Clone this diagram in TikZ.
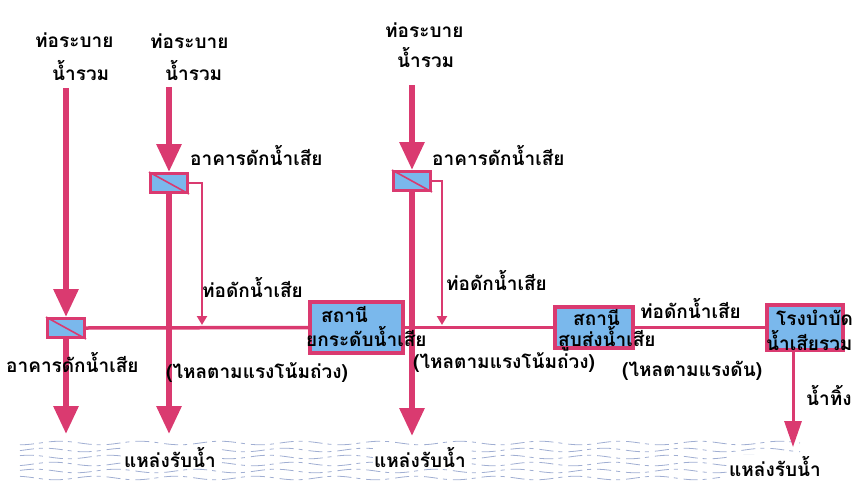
\documentclass[tikz,border=0pt]{standalone}
\usepackage{fontspec}
\newfontfamily\thaifont[Script=Thai]{Loma}
\usetikzlibrary{arrows.meta}
\definecolor{pinkc}{RGB}{218,58,112}
\definecolor{boxblue}{RGB}{122,184,236}
\definecolor{wavec}{RGB}{160,174,210}
\begin{document}
\begin{tikzpicture}[x=1pt,y=-1pt,
  lbl/.style={font=\thaifont\bfseries\fontsize{19}{22}\selectfont, inner sep=0pt, anchor=base west, text=black},
  bigarrow/.style={draw=pinkc, line width=6pt, -{Triangle[width=24pt,length=28pt]}},
  midarrow/.style={draw=pinkc, line width=3pt, -{Triangle[width=17pt,length=26pt]}},
  thinpipe/.style={draw=pinkc, line width=2.5pt, -{Triangle[width=10pt,length=9pt]}},
  mainpipe/.style={draw=pinkc, line width=3.5pt},
  trap/.style={draw=pinkc, fill=boxblue, line width=3pt, minimum width=37pt, minimum height=19pt, inner sep=0pt},
  station/.style={draw=pinkc, fill=boxblue, line width=3.5pt, inner sep=0pt},
  wave/.style={draw=wavec, line width=0.8pt, dash pattern=on 14pt off 5pt on 4pt off 6pt}
]
\useasboundingbox (0,0) rectangle (857,485);

% water
\foreach \yy/\ph/\xe in {443/0/800,450/70/800,457/140/800,464/30/800,471/110/800,478/200/720}
  \draw[wave] plot[domain=20:\xe,samples=160] (\x,{\yy+1.8*sin(\x*4.5+\ph)});

% boxes
\node[trap] (tr1) at (66,328) {};
\node[trap] (tr2) at (169,183) {};
\node[trap] (tr3) at (412,181) {};
\foreach \b in {tr1,tr2,tr3}
  \draw[pinkc, line width=1.6pt] (\b.north west) -- (\b.south east);
\node[station, minimum width=93pt, minimum height=51pt] (st1) at (356.5,327.5) {};
\node[station, minimum width=78pt, minimum height=41pt] (st2) at (594,327.5) {};
\node[station, minimum width=76pt, minimum height=45pt] (st3) at (805,327.5) {};

% coordinates
\coordinate (c1top) at (66,88);
\coordinate (c2top) at (169,87);
\coordinate (c3top) at (412,85);
\coordinate (c1bot) at (66,434);
\coordinate (c2bot) at (169,434);
\coordinate (c3bot) at (412,436);
\coordinate (k2) at (202,183);
\coordinate (k2b) at (202,325);
\coordinate (k3) at (442,181);
\coordinate (k3b) at (442,325);
\coordinate (out3) at (793,447);

% main sewer line
\draw[mainpipe] (tr1.east) -- (st1.west);
\draw[mainpipe] (st1.east) -- (st2.west);
\draw[mainpipe] (st2.east) -- (st3.west);

% interceptor pipes
\draw[thinpipe] (tr2.east) -- (k2) -- (k2b);
\draw[thinpipe] (tr3.east) -- (k3) -- (k3b);

% big arrows
\draw[bigarrow] (c1top) -- (tr1.north);
\draw[bigarrow] (c2top) -- (tr2.north);
\draw[bigarrow] (c3top) -- (tr3.north);
\draw[bigarrow] (tr1.south) -- (c1bot);
\draw[bigarrow] (tr2.south) -- (c2bot);
\draw[bigarrow] (tr3.south) -- (c3bot);
\draw[midarrow] (st3.south -| out3) -- (out3);

% labels
\node[lbl] (t1a) at (35,47) {ท่อระบาย};
\node[lbl] (t1b) at (52,80) {น้ำรวม};
\node[lbl] (t2a) at (150,48) {ท่อระบาย};
\node[lbl] (t2b) at (165,80) {น้ำรวม};
\node[lbl] (t3a) at (385,37) {ท่อระบาย};
\node[lbl] (t3b) at (397,67) {น้ำรวม};
\node[lbl] (a2) at (190,165) {อาคารดักน้ำเสีย};
\node[lbl] (a3) at (432,165) {อาคารดักน้ำเสีย};
\node[lbl] (a1) at (6,372) {อาคารดักน้ำเสีย};
\node[lbl] (p2) at (202,297) {ท่อดักน้ำเสีย};
\node[lbl] (p3) at (446,290) {ท่อดักน้ำเสีย};
\node[lbl] (p4) at (640,318) {ท่อดักน้ำเสีย};
\node[lbl] (g1) at (166,378) {(ไหลตามแรงโน้มถ่วง)};
\node[lbl] (g2) at (413,368) {(ไหลตามแรงโน้มถ่วง)};
\node[lbl] (g3) at (622,376) {(ไหลตามแรงดัน)};
\node[lbl] (s1a) at (321,322) {สถานี};
\node[lbl] (s1b) at (306,346) {ยกระดับน้ำเสีย};
\node[lbl] (s2a) at (573,325) {สถานี};
\node[lbl] (s2b) at (558,346) {สูบส่งน้ำเสีย};
\node[lbl] (s3a) at (776,325) {โรงบำบัด};
\node[lbl] (s3b) at (766,350) {น้ำเสียรวม};
\node[lbl] (dis) at (806,405) {น้ำทิ้ง};
\node[lbl, fill=white, inner sep=1pt] (r1) at (123,467) {แหล่งรับน้ำ};
\node[lbl, fill=white, inner sep=1pt] (r2) at (373,467) {แหล่งรับน้ำ};
\node[lbl, fill=white, inner sep=1pt] (r3) at (728,476) {แหล่งรับน้ำ};
\end{tikzpicture}
\end{document}
